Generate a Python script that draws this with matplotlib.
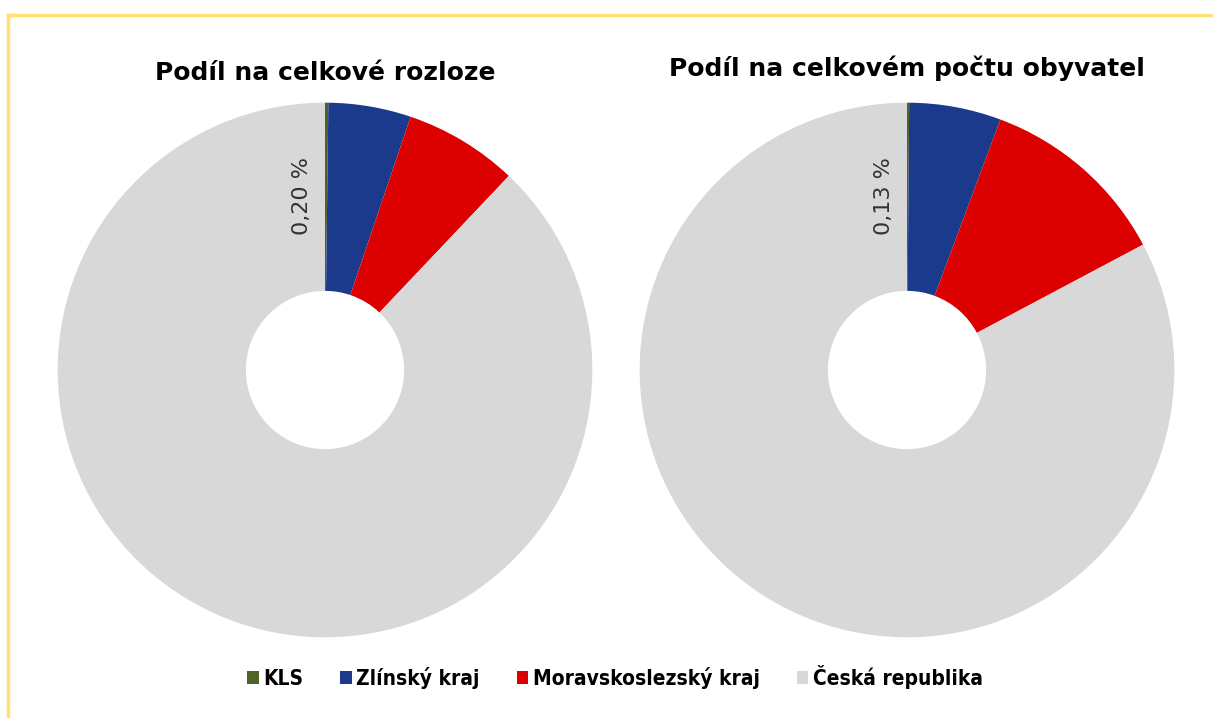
import matplotlib.pyplot as plt
from matplotlib.patches import Patch
from matplotlib.lines import Line2D

# Podíl KLS a krajů na ČR (%)
kategorie = ['KLS', 'Zlínský kraj', 'Moravskoslezský kraj', 'Česká republika']
rozloha = [0.20, 4.99, 6.88, 87.93]
obyvatele = [0.13, 5.55, 11.55, 82.77]
popisky = ['0,20 %', '0,13 %']
nadpisy = ['Podíl na celkové rozloze', 'Podíl na celkovém počtu obyvatel']
barvy = ['#4F6228', '#1B3A8C', '#DD0000', '#D8D8D8']

fig = plt.figure(figsize=(12.13, 7.18), dpi=100)

# zluty ramecek (jen horni a levy okraj jsou videt)
fig.add_artist(Line2D([8 / 1213, 1], [1 - 15 / 718, 1 - 15 / 718], color='#FFE074', lw=2.5))
fig.add_artist(Line2D([8 / 1213, 8 / 1213], [0, 1 - 15 / 718], color='#FFE074', lw=2.5))

pozice = [55 / 1213, 637 / 1213]
titul_y = [73, 68]
for i, hodnoty in enumerate([rozloha, obyvatele]):
    ax = fig.add_axes([pozice[i], 78 / 718, 540 / 1213, 540 / 718])
    ax.pie(hodnoty, colors=barvy, startangle=90, counterclock=False, radius=1,
           wedgeprops=dict(width=0.704, edgecolor='none'))
    ax.set_xlim(-1.01, 1.01)
    ax.set_ylim(-1.01, 1.01)
    ax.set_aspect('equal')
    ax.axis('off')
    ax.text(-0.085, 0.65, popisky[i], rotation=90, ha='center', va='center',
            fontsize=16, color='#333333')
    fig.text(pozice[i] + 270 / 1213, 1 - titul_y[i] / 718, nadpisy[i], ha='center', va='center',
             fontsize=18, fontweight='bold', color='black')

handles = [Patch(facecolor=c, edgecolor='none') for c in barvy]
fig.legend(handles, kategorie, loc='center', bbox_to_anchor=(615 / 1213, 1 - 677 / 718),
           ncol=4, frameon=False, handlelength=0.55, handleheight=0.55, handletextpad=0.2,
           columnspacing=1.8,
           prop={'family': 'DejaVu Sans', 'stretch': 'condensed', 'weight': 'bold', 'size': 15})

plt.savefig('out.png', dpi=100)
